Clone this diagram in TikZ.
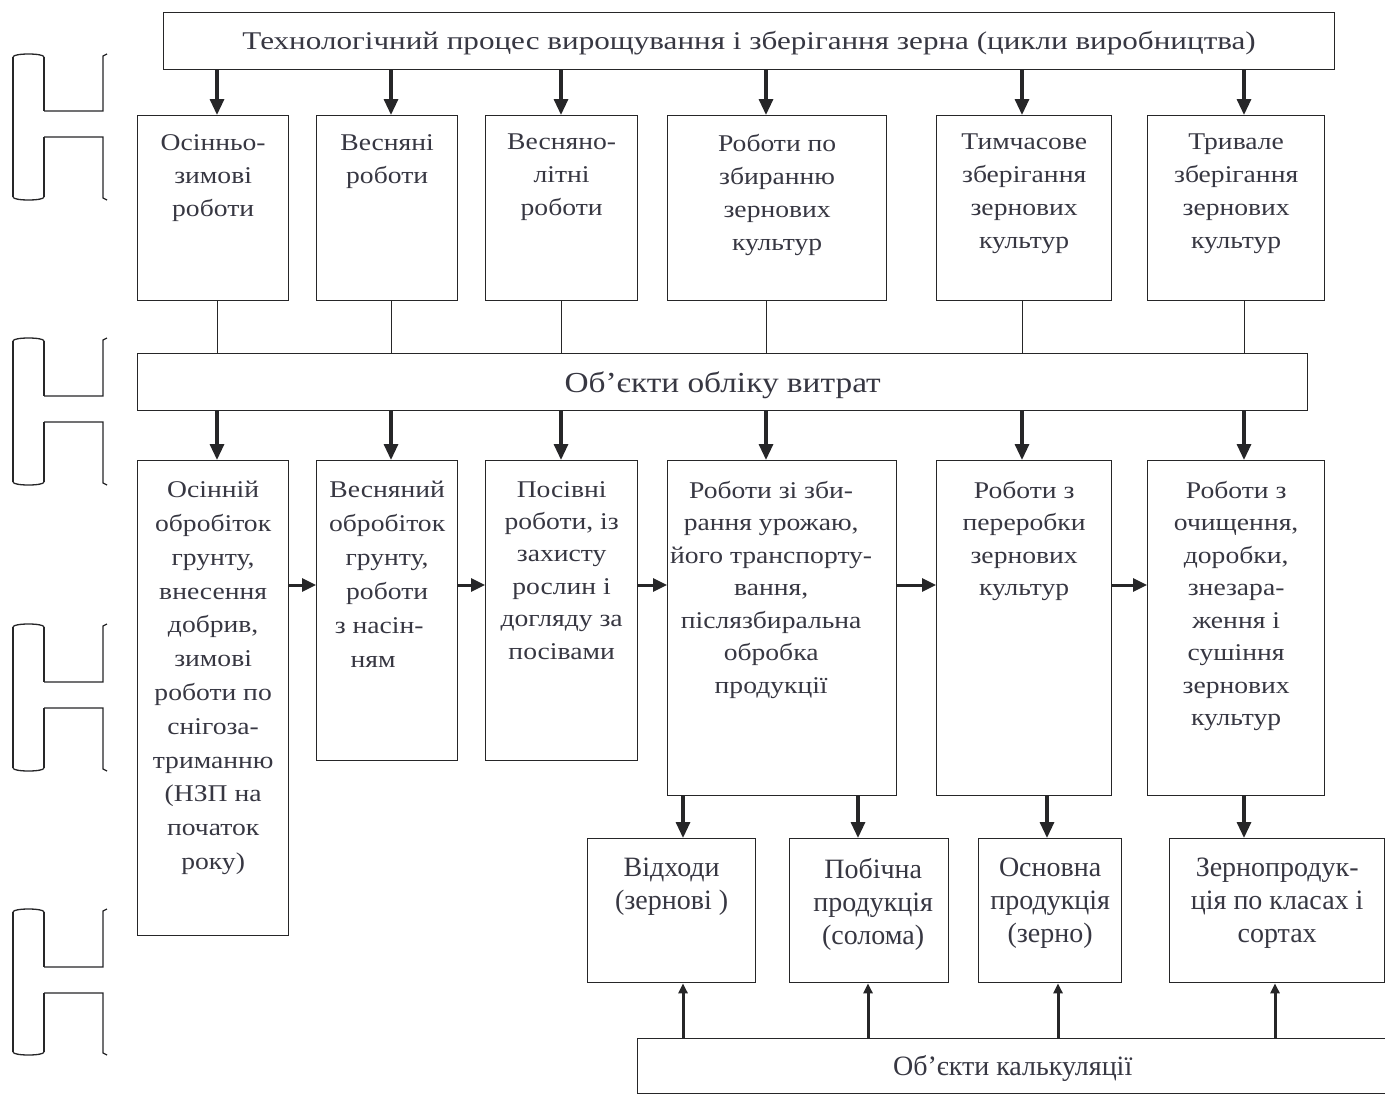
\documentclass[tikz,border=0pt]{standalone}
\usepackage{fontspec}
\setmainfont{Liberation Serif}
\newfontfamily\wideserif[FakeStretch=1.15]{Liberation Serif}
\newfontfamily\widerserif[FakeStretch=1.22]{Liberation Serif}
\usetikzlibrary{arrows.meta}
\definecolor{ink}{RGB}{38,38,40}
\definecolor{txt}{RGB}{55,55,66}
\tikzset{
  box/.style={draw=ink, line width=1.3pt, anchor=north west, inner sep=0pt},
  lbl/.style={anchor=north, align=center, inner sep=0pt, text=txt, font=\wideserif\fontsize{24}{33}\selectfont},
  lblb/.style={anchor=north, align=center, inner sep=0pt, text=txt, font=\fontsize{28}{33}\selectfont},
  arr/.style={draw=ink, line width=3.2pt, -{Triangle[width=14pt,length=16pt]}},
  harr/.style={draw=ink, line width=3pt, -{Triangle[width=13pt,length=14pt]}},
  uarr/.style={draw=ink, line width=3pt, -{Triangle[width=9pt,length=10pt]}},
  thinln/.style={draw=ink, line width=1pt},
  brk/.style={draw=ink, line width=1.3pt},
}
\begin{document}
\begin{tikzpicture}[x=1pt,y=-1pt]
\fill[white] (0,0) rectangle (1385,1095);
\useasboundingbox (0,0) rectangle (1385,1095);

% left bracket shapes
\foreach \t/\a/\c/\b in {54/111/137/200, 338/396/422/485, 624/682/708/771, 909/967/993/1055}{
  \draw[brk] (13,\t+3) -- (13,\b-3);
  \draw[brk] (44,\t+3) -- (44,\a);
  \draw[brk] (44,\c) -- (44,\b-3);
  \draw[brk] (13,\t+3) .. controls (13,\t-1) and (44,\t-1) .. (44,\t+3);
  \draw[brk] (13,\b-3) .. controls (13,\b+1) and (44,\b+1) .. (44,\b-3);
  \draw[brk] (44,\a) -- (103,\a) -- (103,\t+2) -- (107,\t);
  \draw[brk] (44,\c) -- (103,\c) -- (103,\b-2) -- (107,\b);
}

% top title
\node[box, minimum width=1171pt, minimum height=57pt] (top) at (163,12) {};
\node[lbl, anchor=center, font=\widerserif\fontsize{25.5}{30}\selectfont] (topt) at ([yshift=-2pt]top.center) {Технологічний процес вирощування і зберігання зерна (цикли виробництва)};

% row 1
\node[box, minimum width=151pt, minimum height=185pt] (r1a) at (137,115) {};
\node[box, minimum width=141pt, minimum height=185pt] (r1b) at (316,115) {};
\node[box, minimum width=152pt, minimum height=185pt] (r1c) at (485,115) {};
\node[box, minimum width=219pt, minimum height=185pt] (r1d) at (667,115) {};
\node[box, minimum width=175pt, minimum height=185pt] (r1e) at (936,115) {};
\node[box, minimum width=177pt, minimum height=185pt] (r1f) at (1147,115) {};
\node[lbl] (r1at) at ([yshift=-19pt]r1a.north) {Осінньо-\\зимові\\роботи};
\node[lbl] (r1bt) at ([yshift=-19pt]r1b.north) {Весняні\\роботи};
\node[lbl] (r1ct) at ([yshift=-19pt]r1c.north) {Весняно-\\літні\\роботи};
\node[lbl] (r1dt) at ([yshift=-19pt]r1d.north) {Роботи по\\збиранню\\зернових\\культур};
\node[lbl] (r1et) at ([yshift=-19pt]r1e.north) {Тимчасове\\зберігання\\зернових\\культур};
\node[lbl] (r1ft) at ([yshift=-19pt]r1f.north) {Тривале\\зберігання\\зернових\\культур};

% middle
\node[box, minimum width=1170pt, minimum height=57pt] (mid) at (137,353) {};
\node[lbl, anchor=center, font=\wideserif\fontsize{29}{36}\selectfont] (midt) at ([yshift=-3pt]mid.center) {Об’єкти обліку витрат};

% row 2
\node[box, minimum width=151pt, minimum height=475pt] (r2a) at (137,460) {};
\node[box, minimum width=141pt, minimum height=300pt] (r2b) at (316,460) {};
\node[box, minimum width=152pt, minimum height=300pt] (r2c) at (485,460) {};
\node[box, minimum width=229pt, minimum height=335pt] (r2d) at (667,460) {};
\node[box, minimum width=175pt, minimum height=335pt] (r2e) at (936,460) {};
\node[box, minimum width=177pt, minimum height=335pt] (r2f) at (1147,460) {};
\node[lbl, font=\wideserif\fontsize{24}{33.8}\selectfont] (r2at) at ([yshift=-21pt]r2a.north) {Осінній\\обробіток\\грунту,\\внесення\\добрив,\\зимові\\роботи по\\снігоза-\\триманню\\(НЗП на\\початок\\року)};
\node[lbl, font=\wideserif\fontsize{24}{34}\selectfont] (r2bt) at ([yshift=-21pt]r2b.north) {Весняний\\обробіток\\грунту,\\роботи\\з насін-\kern16pt\\ням\kern28pt};
\node[lbl, font=\wideserif\fontsize{24}{32.4}\selectfont] (r2ct) at ([yshift=-21pt]r2c.north) {Посівні\\роботи, із\\захисту\\рослин і\\догляду за\\посівами};
\node[lbl, font=\wideserif\fontsize{24}{32.5}\selectfont] (r2dt) at ([xshift=-11pt,yshift=-21pt]r2d.north) {Роботи зі зби-\\рання урожаю,\\його транспорту-\\вання,\\післязбиральна\\обробка\\продукції};
\node[lbl, font=\wideserif\fontsize{24}{32.5}\selectfont] (r2et) at ([yshift=-21pt]r2e.north) {Роботи з\\переробки\\зернових\\культур};
\node[lbl, font=\wideserif\fontsize{24}{32.5}\selectfont] (r2ft) at ([yshift=-21pt]r2f.north) {Роботи з\\очищення,\\доробки,\\знезара-\\ження і\\сушіння\\зернових\\культур};

% bottom row
\node[box, minimum width=168pt, minimum height=144pt] (b1) at (587,838) {};
\node[box, minimum width=159pt, minimum height=144pt] (b2) at (789,838) {};
\node[box, minimum width=143pt, minimum height=144pt] (b3) at (978,838) {};
\node[box, minimum width=215pt, minimum height=144pt] (b4) at (1169,838) {};
\node[lblb] (b1t) at ([yshift=-20pt]b1.north) {Відходи\\(зернові )};
\node[lblb] (b2t) at ([xshift=4pt,yshift=-20pt]b2.north) {Побічна\\продукція\\(солома)};
\node[lblb] (b3t) at ([yshift=-20pt]b3.north) {Основна\\продукція\\(зерно)};
\node[lblb] (b4t) at ([yshift=-20pt]b4.north) {Зернопродук-\\ція по класах і\\сортах};

% calculation objects
\node[box, minimum width=760pt, minimum height=55pt] (calc) at (637,1038) {};
\node[lblb, anchor=center] (calct) at ([xshift=-5pt,yshift=-2pt]calc.center) {Об’єкти калькуляції};

% column coordinates
\coordinate (c1) at (217,0);
\coordinate (c2) at (391,0);
\coordinate (c3) at (561,0);
\coordinate (c4) at (766,0);
\coordinate (c5) at (1022,0);
\coordinate (c6) at (1244,0);
\coordinate (hy) at (0,585);

% top -> row1
\draw[arr] (top.south -| c1) -- (r1a.north -| c1);
\draw[arr] (top.south -| c2) -- (r1b.north -| c2);
\draw[arr] (top.south -| c3) -- (r1c.north -| c3);
\draw[arr] (top.south -| c4) -- (r1d.north -| c4);
\draw[arr] (top.south -| c5) -- (r1e.north -| c5);
\draw[arr] (top.south -| c6) -- (r1f.north -| c6);

% row1 -> mid (plain lines)
\draw[thinln] (r1a.south -| c1) -- (mid.north -| c1);
\draw[thinln] (r1b.south -| c2) -- (mid.north -| c2);
\draw[thinln] (r1c.south -| c3) -- (mid.north -| c3);
\draw[thinln] (r1d.south -| c4) -- (mid.north -| c4);
\draw[thinln] (r1e.south -| c5) -- (mid.north -| c5);
\draw[thinln] (r1f.south -| c6) -- (mid.north -| c6);

% mid -> row2
\draw[arr] (mid.south -| c1) -- (r2a.north -| c1);
\draw[arr] (mid.south -| c2) -- (r2b.north -| c2);
\draw[arr] (mid.south -| c3) -- (r2c.north -| c3);
\draw[arr] (mid.south -| c4) -- (r2d.north -| c4);
\draw[arr] (mid.south -| c5) -- (r2e.north -| c5);
\draw[arr] (mid.south -| c6) -- (r2f.north -| c6);

% row2 horizontal chain
\draw[harr] (r2a.east |- hy) -- (r2b.west |- hy);
\draw[harr] (r2b.east |- hy) -- (r2c.west |- hy);
\draw[harr] (r2c.east |- hy) -- (r2d.west |- hy);
\draw[harr] (r2d.east |- hy) -- (r2e.west |- hy);
\draw[harr] (r2e.east |- hy) -- (r2f.west |- hy);

% row2 -> bottom row
\coordinate (d1) at (683,0);
\coordinate (d2) at (858,0);
\coordinate (d3) at (1047,0);
\coordinate (d4) at (1244,0);
\draw[arr] (r2d.south -| d1) -- (b1.north -| d1);
\draw[arr] (r2d.south -| d2) -- (b2.north -| d2);
\draw[arr] (r2e.south -| d3) -- (b3.north -| d3);
\draw[arr] (r2f.south -| d4) -- (b4.north -| d4);

% calc -> bottom row
\coordinate (u1) at (683,0);
\coordinate (u2) at (868,0);
\coordinate (u3) at (1058,0);
\coordinate (u4) at (1275,0);
\draw[uarr] (calc.north -| u1) -- (b1.south -| u1);
\draw[uarr] (calc.north -| u2) -- (b2.south -| u2);
\draw[uarr] (calc.north -| u3) -- (b3.south -| u3);
\draw[uarr] (calc.north -| u4) -- (b4.south -| u4);
\end{tikzpicture}
\end{document}
